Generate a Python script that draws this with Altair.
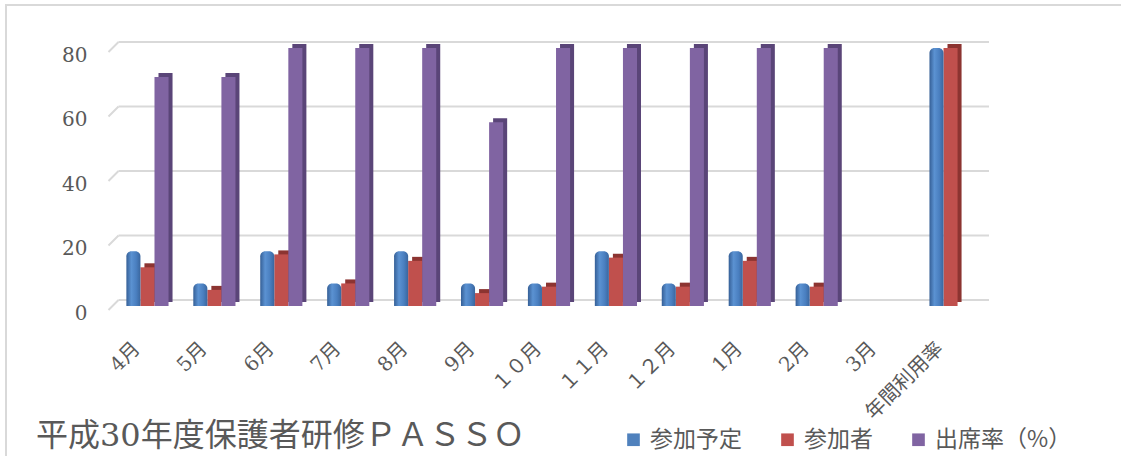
import altair as alt
import pandas as pd

# ---- data ----
months = ["4月", "5月", "6月", "7月", "8月", "9月", "１０月", "１１月", "１２月",
          "1月", "2月", "3月", "年間利用率"]
series = ["参加予定", "参加者", "出席率（%）"]
planned = [17, 7, 17, 7, 17, 7, 7, 17, 7, 17, 7, None, 80]
attended = [12, 5, 16, 7, 14, 4, 6, 15, 6, 14, 6, None, 80]
rate = [71, 71, 80, 80, 80, 57, 80, 80, 80, 80, 80, None, None]
y_ticks = [0, 20, 40, 60, 80]
title_text = "平成30年度保護者研修ＰＡＳＳＯ"

colors = ["#4F81BD", "#C0504D", "#8064A2"]
dark_red = "#8C3431"
dark_purple = "#5A4578"
text_grey = "#595959"
grid_grey = "#D9D9D9"

W, H = 870, 258
PAD_L, PAD_T = 114, 52
SLOT = 0.21  # width of one bar within a month group (in category units)

rows = []
for i, m in enumerate(months):
    for k, (s, vals) in enumerate(zip(series, [planned, attended, rate])):
        v = vals[i]
        if v is None:
            continue
        x0 = i - 1.5 * SLOT + k * SLOT
        rows.append({"month": m, "s": s, "value": v, "x0": x0, "x1": x0 + SLOT})
df = pd.DataFrame(rows)
grid_df = pd.DataFrame({"v": y_ticks})
title_df = pd.DataFrame({"t": [title_text]})
one_df = pd.DataFrame({"a": [0]})

xscale = alt.Scale(domain=[-0.5, len(months) - 0.5], nice=False, zero=False)
yscale = alt.Scale(domain=[0, 80], nice=False)

label_array = "[" + ",".join("'" + m + "'" for m in months) + "]"
serif = "DejaVu Serif, Noto Sans CJK JP"
sans = "Noto Sans CJK JP"

x_axis = alt.Axis(
    values=list(range(len(months))), labelExpr=label_array + "[datum.value]",
    domain=False, ticks=False, grid=False, title=None, zindex=2,
    labelAngle=315, labelAlign="right", labelBaseline="middle",
    labelFont=serif, labelFontSize=20, labelColor=text_grey,
    labelPadding=35, labelOffset=-11, labelOverlap=False,
)
y_axis = alt.Axis(
    values=y_ticks, domain=False, ticks=False, grid=False, title=None, zindex=2,
    labelFont=serif, labelFontSize=20, labelColor=text_grey, labelPadding=27,
    labelOffset=3,
)

# outer chart border
border = alt.Chart(one_df).mark_rect(
    filled=False, stroke=grid_grey, strokeWidth=2
).encode(
    x=alt.value(6 - PAD_L), x2=alt.value(1121 - PAD_L + 20),
    y=alt.value(5 - PAD_T), y2=alt.value(456 - PAD_T + 20),
)

# back-wall gridlines
grid = alt.Chart(grid_df).mark_rule(color=grid_grey, strokeWidth=2, yOffset=-10).encode(
    x=alt.value(4.5), x2=alt.value(W + 5),
    y=alt.Y("v:Q", scale=yscale, axis=y_axis),
)

# side-wall diagonals
diag = alt.Chart(grid_df).mark_rule(color=grid_grey, strokeWidth=2, yOffset=0, y2Offset=-10).encode(
    x=alt.value(-5.5), x2=alt.value(4.5),
    y=alt.Y("v:Q", scale=yscale, axis=y_axis),
    y2=alt.Y2("v:Q"),
)

def depth_layer(name, col):
    return alt.Chart(df).transform_filter(
        alt.datum.s == name
    ).mark_bar(color=col, xOffset=4, x2Offset=4, yOffset=-8, y2Offset=-8).encode(
        x=alt.X("x0:Q", scale=xscale, axis=x_axis),
        x2="x1:Q",
        y=alt.Y("value:Q", scale=yscale, axis=y_axis),
        y2=alt.datum(0),
    )

depth_red = depth_layer(series[1], dark_red)
depth_purple = depth_layer(series[2], dark_purple)

front = alt.Chart(df).transform_filter(
    alt.datum.s != series[0]
).mark_bar(yOffset=-4, y2Offset=-4).encode(
    x=alt.X("x0:Q", scale=xscale, axis=x_axis),
    x2="x1:Q",
    y=alt.Y("value:Q", scale=yscale, axis=y_axis),
    y2=alt.datum(0),
    color=alt.Color("s:N", scale=alt.Scale(domain=series, range=colors), legend=alt.Legend(
        orient="none", legendX=508, legendY=376, direction="horizontal", title=None,
        symbolType="square", symbolSize=160, symbolStrokeWidth=0,
        labelFont=sans, labelFontSize=23, labelColor=text_grey,
        columnPadding=34, labelOffset=5, padding=0,
    )),
)

blue_grad = {
    "gradient": "linear", "x1": 0, "x2": 1, "y1": 0, "y2": 0,
    "stops": [
        {"offset": 0, "color": "#355F96"},
        {"offset": 0.35, "color": "#5B92D2"},
        {"offset": 0.7, "color": "#4A7FC0"},
        {"offset": 1, "color": "#3A669E"},
    ],
}
blue = alt.Chart(df).transform_filter(
    alt.datum.s == series[0]
).mark_bar(color=blue_grad, cornerRadiusTopLeft=5, cornerRadiusTopRight=5,
           yOffset=-4, y2Offset=-4).encode(
    x=alt.X("x0:Q", scale=xscale, axis=x_axis),
    x2="x1:Q",
    y=alt.Y("value:Q", scale=yscale, axis=y_axis),
    y2=alt.datum(0),
)

title = alt.Chart(title_df).mark_text(
    align="left", baseline="alphabetic", fontSize=32, font=serif, color=text_grey
).encode(
    text="t:N", x=alt.value(36 - PAD_L), y=alt.value(446 - PAD_T),
)

chart = alt.layer(
    border, grid, diag, depth_red, depth_purple, front, blue, title
).properties(
    width=W, height=H,
    autosize=alt.AutoSizeParams(type="none"),
    padding={"left": PAD_L, "top": PAD_T, "right": 1121 - PAD_L - W, "bottom": 456 - PAD_T - H},
    background="white",
).configure_view(stroke=None)

chart.save("out.html", embed_options={"renderer": "svg", "actions": False})
